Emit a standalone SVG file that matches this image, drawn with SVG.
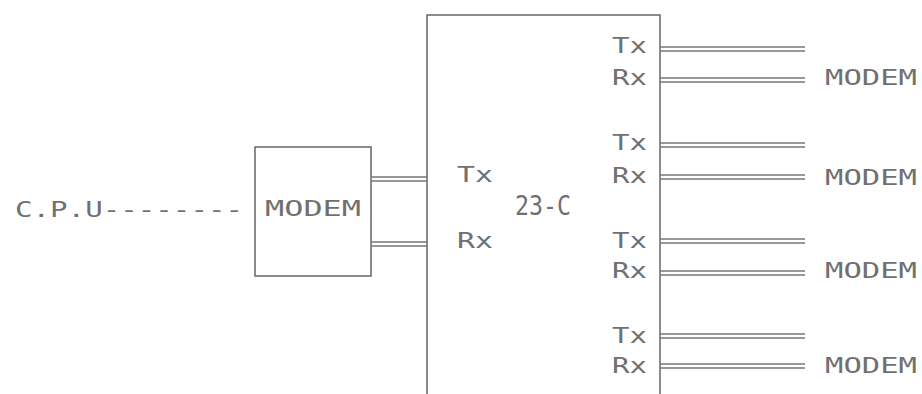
<svg xmlns="http://www.w3.org/2000/svg" width="922" height="394" viewBox="0 0 922 394">
<style>
text{font-family:"DejaVu Sans Mono","Liberation Mono",monospace;font-size:22px;fill:#707070}
.big{font-size:26px}
.box{fill:none;stroke:#666;stroke-width:1.5}
.w{stroke:#777;stroke-width:1.3;fill:none}
</style>
<rect width="922" height="394" fill="#fff"/>
<g id="cpu"><text x="15" y="217" textLength="228" lengthAdjust="spacingAndGlyphs">C.P.U--------</text></g>
<g id="modem-local">
<rect class="box" x="255" y="147" width="116" height="129"/>
<text x="265" y="216" textLength="96" lengthAdjust="spacingAndGlyphs">MODEM</text>
</g>
<g id="mux23c">
<path class="box" d="M427,394 V15 H660 V394"/>
<text x="457" y="182" textLength="36" lengthAdjust="spacingAndGlyphs">Tx</text>
<text x="457" y="248" textLength="36" lengthAdjust="spacingAndGlyphs">Rx</text>
<text class="big" x="515" y="215" textLength="56" lengthAdjust="spacingAndGlyphs">23-C</text>
<text x="612" y="53" textLength="35" lengthAdjust="spacingAndGlyphs">Tx</text>
<text x="612" y="85" textLength="35" lengthAdjust="spacingAndGlyphs">Rx</text>
<text x="612" y="150" textLength="35" lengthAdjust="spacingAndGlyphs">Tx</text>
<text x="612" y="183" textLength="35" lengthAdjust="spacingAndGlyphs">Rx</text>
<text x="612" y="248" textLength="35" lengthAdjust="spacingAndGlyphs">Tx</text>
<text x="612" y="278" textLength="35" lengthAdjust="spacingAndGlyphs">Rx</text>
<text x="612" y="343" textLength="35" lengthAdjust="spacingAndGlyphs">Tx</text>
<text x="612" y="373" textLength="35" lengthAdjust="spacingAndGlyphs">Rx</text>
</g>
<g id="modem-1"><text x="825" y="85" textLength="92" lengthAdjust="spacingAndGlyphs">MODEM</text></g>
<g id="modem-2"><text x="825" y="185" textLength="92" lengthAdjust="spacingAndGlyphs">MODEM</text></g>
<g id="modem-3"><text x="825" y="278" textLength="92" lengthAdjust="spacingAndGlyphs">MODEM</text></g>
<g id="modem-4"><text x="825" y="373" textLength="92" lengthAdjust="spacingAndGlyphs">MODEM</text></g>
<g id="connectors">
<path class="w" d="M371,177 H427 M371,181 H427 M371,242 H427 M371,246 H427"/>
<path class="w" d="M660,47 H805 M660,51 H805 M660,78 H805 M660,82 H805"/>
<path class="w" d="M660,143 H805 M660,147 H805 M660,175 H805 M660,179 H805"/>
<path class="w" d="M660,239 H805 M660,243 H805 M660,271 H805 M660,275 H805"/>
<path class="w" d="M660,334 H805 M660,338 H805 M660,364 H805 M660,368 H805"/>
</g>
</svg>
